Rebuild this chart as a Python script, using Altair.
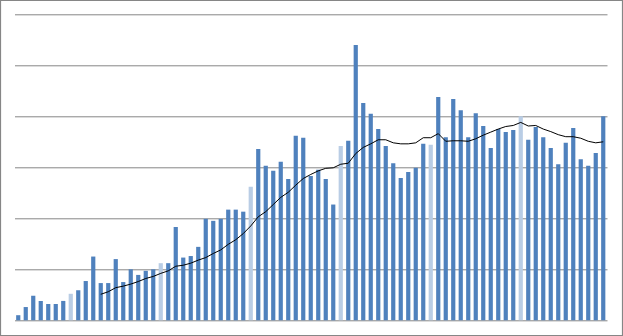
import altair as alt
import pandas as pd

# Bar values (one per period) (gridline step = 10)
values = [
    1.0, 2.6, 4.8, 3.8, 3.2, 3.2, 3.8, 5.2, 5.9, 7.7, 12.5, 7.3,
    7.3, 12.0, 7.5, 10.0, 8.9, 9.7, 10.0, 11.2, 11.2, 18.3, 12.3, 12.6,
    14.4, 19.9, 19.5, 19.9, 21.7, 21.7, 21.3, 26.2, 33.6, 30.3, 29.3, 31.1,
    27.7, 36.2, 35.8, 28.3, 29.5, 27.7, 22.7, 34.2, 35.2, 54.0, 42.6, 40.5,
    37.5, 34.2, 30.8, 27.9, 29.1, 29.9, 34.6, 34.4, 43.8, 35.9, 43.4, 41.2,
    35.9, 40.6, 38.1, 33.8, 37.5, 36.9, 37.3, 40.0, 35.4, 37.9, 35.9, 33.8,
    30.6, 34.8, 37.7, 31.6, 30.3, 32.8, 40.0,
]
# Highlighted (light) bars
light_idx = [7, 19, 31, 43, 55, 67]

# Moving-average line, starting at period 11
ma_start = 11
ma_values = [
    5.1, 5.6, 6.4, 6.7, 7.1, 7.6, 8.2, 8.6, 9.2, 9.7, 10.6, 10.8,
    11.2, 11.8, 12.3, 13.1, 13.8, 14.9, 15.8, 17.0, 18.5, 20.3, 21.3, 22.7,
    24.1, 25.1, 26.5, 27.8, 28.6, 29.3, 29.8, 29.9, 30.6, 30.8, 32.7, 33.9,
    34.6, 35.4, 35.4, 34.8, 34.6, 34.6, 34.8, 35.8, 35.8, 36.6, 35.1, 35.2,
    35.2, 35.1, 35.6, 36.3, 36.9, 37.5, 38.0, 38.2, 38.8, 38.1, 38.2, 37.5,
    37.0, 36.4, 36.0, 36.0, 35.7, 35.1, 34.8, 35.0,
]

n = len(values)
bars = pd.DataFrame({
    "idx": list(range(n)),
    "value": values,
    "kind": ["light" if i in light_idx else "normal" for i in range(n)],
})
line_df = pd.DataFrame({
    "idx": list(range(ma_start, ma_start + len(ma_values))),
    "ma": ma_values,
})

W, H = 592.5, 306

x_scale = alt.Scale(domain=list(range(n)), paddingInner=0.44, paddingOuter=0.22)
y_scale = alt.Scale(domain=[0, 60], nice=False)

x_enc = alt.X("idx:O", scale=x_scale, axis=None)

bar_layer = alt.Chart(bars).mark_bar().encode(
    x=x_enc,
    y=alt.Y(
        "value:Q",
        scale=y_scale,
        axis=alt.Axis(
            values=[0, 10, 20, 30, 40, 50, 60],
            grid=True,
            gridColor="#868686",
            gridWidth=1,
            gridOpacity=1,
            labels=False,
            ticks=False,
            domain=False,
            title=None,
        ),
    ),
    color=alt.Color(
        "kind:N",
        scale=alt.Scale(domain=["normal", "light"], range=["#4F81BD", "#B9CDE5"]),
        legend=None,
    ),
)

line_layer = alt.Chart(line_df).mark_line(color="#000000", strokeWidth=1).encode(
    x=alt.X("idx:O", scale=x_scale, axis=None),
    y=alt.Y("ma:Q", scale=y_scale),
)

border = alt.Chart(bars.head(1)).mark_rect(
    fill=None, stroke="#868686", strokeWidth=1.2, clip=False
).encode(
    x=alt.value(-14),
    x2=alt.value(608),
    y=alt.value(-13.8),
    y2=alt.value(321.2),
)

chart = alt.layer(bar_layer, line_layer, border).properties(
    width=W,
    height=H,
    autosize=alt.AutoSizeParams(type="none"),
    padding={"left": 14.5, "top": 14.3, "right": 16, "bottom": 15.7},
    background="#ffffff",
).configure_view(stroke=None)

chart.save("out.html", embed_options={"renderer": "svg", "actions": False})
